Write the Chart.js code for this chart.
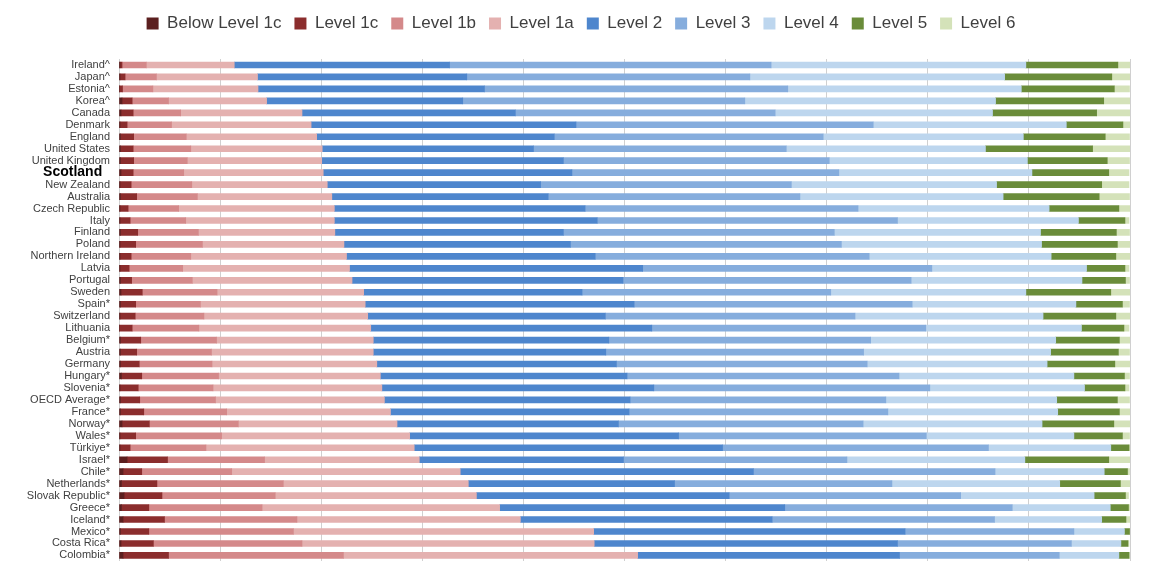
<!DOCTYPE html>
<html>
<head>
<meta charset="utf-8">
<script src="https://cdn.jsdelivr.net/npm/chart.js@4.4.1/dist/chart.umd.min.js"></script>
<style>
html,body{margin:0;padding:0;background:#fff;}
#wrap{width:1164px;height:577px;}
</style>
</head>
<body>
<div id="wrap"><canvas id="c" width="1164" height="577"></canvas></div>
<script>
const countries = ["Ireland^","Japan^","Estonia^","Korea^","Canada","Denmark","England","United States","United Kingdom","Scotland","New Zealand","Australia","Czech Republic","Italy","Finland","Poland","Northern Ireland","Latvia","Portugal","Sweden","Spain*","Switzerland","Lithuania","Belgium*","Austria","Germany","Hungary*","Slovenia*","OECD Average*","France*","Norway*","Wales*","Türkiye*","Israel*","Chile*","Netherlands*","Slovak Republic*","Greece*","Iceland*","Mexico*","Costa Rica*","Colombia*"];

const levelNames = ["Below Level 1c","Level 1c","Level 1b","Level 1a","Level 2","Level 3","Level 4","Level 5","Level 6"];

const belowLevel1c = [0.1,0.1,0.05,0.3,0.2,0.1,0.15,0.15,0.15,0.2,0.1,0.15,0.1,0.1,0.15,0.1,0.1,0.1,0.15,0.2,0.15,0.1,0.05,0.15,0.15,0.15,0.25,0.1,0.15,0.15,0.3,0.1,0.1,0.8,0.4,0.25,0.5,0.25,0.4,0.15,0.2,0.4];
const level1c = [0.2,0.5,0.3,1.0,1.2,0.7,1.3,1.25,1.3,1.2,1.1,1.6,0.8,1.0,1.7,1.55,1.1,0.9,1.1,2.1,1.5,1.5,1.25,2.0,1.6,1.85,2.0,1.8,1.9,2.3,2.7,1.55,1.0,4.0,1.85,3.5,3.75,2.7,4.1,2.8,3.2,4.5];
const level1b = [2.4,3.1,3.0,3.6,4.7,4.4,5.2,5.7,5.3,5.0,6.0,6.0,5.0,5.5,6.0,6.6,5.9,5.3,6.0,7.4,6.4,6.8,6.6,7.5,7.4,7.2,7.6,7.4,7.5,8.2,8.8,8.5,7.5,9.6,8.9,12.5,11.2,11.2,13.1,14.3,14.7,17.3];
const level1a = [8.7,10.0,10.4,9.7,12.0,13.8,12.9,13.0,13.3,13.8,13.4,13.3,15.4,14.7,13.5,14.0,15.4,16.5,15.8,14.5,16.3,16.2,17.0,15.5,16.0,16.3,16.0,16.7,16.7,16.2,15.7,18.6,20.6,15.3,22.6,18.3,19.9,23.5,22.1,29.7,28.9,29.1];
const level2 = [21.3,20.7,22.4,19.4,21.1,26.2,23.5,20.9,23.9,24.6,21.1,21.4,24.8,26.0,22.6,22.4,24.6,29.0,26.8,21.6,26.6,23.5,27.8,23.3,23.0,23.7,24.4,26.9,24.3,23.6,21.9,26.6,30.5,20.2,29.0,20.4,25.0,28.2,24.9,30.8,30.0,25.9];
const level3 = [31.8,28.0,30.0,27.9,25.7,29.4,26.6,25.0,26.3,26.4,24.8,24.9,27.0,29.7,26.8,26.8,27.1,28.6,28.5,24.6,27.5,24.7,27.1,25.9,25.5,24.8,26.9,27.3,25.3,25.6,24.2,24.5,26.3,22.1,23.9,21.5,22.9,22.5,22.0,16.7,17.2,15.8];
const level4 = [25.2,25.2,23.1,24.8,21.5,19.1,19.8,19.7,19.6,19.1,20.3,20.1,18.9,17.9,20.4,19.8,18.0,15.3,16.9,19.3,16.2,18.6,15.4,18.3,18.5,17.8,17.3,15.3,16.9,16.8,17.7,14.6,12.1,17.6,10.8,16.6,13.2,9.7,10.6,5.0,4.9,5.9];
const level5 = [9.1,10.6,9.2,10.7,10.3,5.6,8.1,10.6,7.9,7.6,10.4,9.5,6.9,4.6,7.5,7.5,6.4,3.8,4.3,8.4,4.6,7.2,4.2,6.3,6.7,6.7,5.0,4.0,6.0,6.1,7.1,4.8,1.8,8.3,2.3,6.0,3.1,1.8,2.4,0.5,0.7,1.0];
const level6 = [1.2,1.8,1.5,2.6,3.3,0.7,2.4,3.7,2.2,2.0,2.7,3.0,1.2,0.4,1.3,1.3,1.4,0.4,0.4,1.9,0.7,1.4,0.5,1.1,1.1,1.5,0.5,0.4,1.2,1.1,1.7,0.7,0.1,2.2,0.2,1.0,0.3,0.2,0.4,0.1,0.1,0.1];

const seriesValues = [belowLevel1c, level1c, level1b, level1a, level2, level3, level4, level5, level6];
const seriesColors = ["#5B1F1F","#8B2D2D","#D4898A","#E4B1B0","#4E86CD","#86ADDD","#BDD6EE","#6A8C3A","#D4E2B9"];

const highlight = "Scotland";

const legendHeightPlugin = {
  id: 'legendHeight',
  beforeInit(chart) {
    const origFit = chart.legend.fit;
    chart.legend.fit = function () {
      origFit.bind(chart.legend)();
      this.height = 57;
    };
  },
  beforeDraw(chart) {
    const lg = chart.legend;
    if (lg && !lg._shifted) {
      lg.left += 16;
      lg.right += 16;
      lg._shifted = true;
    }
  }
};

new Chart(document.getElementById('c'), {
  type: 'bar',
  data: {
    labels: countries,
    datasets: seriesValues.map((vals, i) => ({
      label: levelNames[i],
      data: vals,
      backgroundColor: seriesColors[i],
      borderWidth: 0,
      barThickness: 6
    }))
  },
  options: {
    indexAxis: 'y',
    responsive: false,
    animation: false,
    devicePixelRatio: 1,
    layout: { padding: { left: 0, right: 34, top: 2, bottom: 14 } },
    plugins: {
      legend: {
        position: 'top',
        labels: {
          boxWidth: 12,
          boxHeight: 12,
          padding: 13,
          color: '#404040',
          font: { family: "'Liberation Sans', Arial, sans-serif", size: 17 }
        }
      },
      tooltip: { enabled: false }
    },
    scales: {
      x: {
        stacked: true,
        min: 0,
        max: 100,
        ticks: { display: false, stepSize: 10 },
        grid: { color: '#d0d0d0', lineWidth: 1, drawTicks: false },
        border: { display: false }
      },
      y: {
        stacked: true,
        afterFit(scale) { scale.width = 119; },
        grid: { display: false, drawTicks: false },
        border: { display: false },
        ticks: {
          padding: 9,
          autoSkip: false,
          color: (ctx) => (countries[ctx.index] === highlight ? '#000000' : '#404040'),
          font: (ctx) => (countries[ctx.index] === highlight
            ? { family: "'Liberation Sans', Arial, sans-serif", size: 14, weight: 'bold' }
            : { family: "'Liberation Sans', Arial, sans-serif", size: 11 }),
          callback: function (value, index) {
            const l = countries[index];
            return l === highlight ? l + '  ' : l;
          }
        }
      }
    }
  },
  plugins: [legendHeightPlugin]
});
</script>
</body>
</html>
